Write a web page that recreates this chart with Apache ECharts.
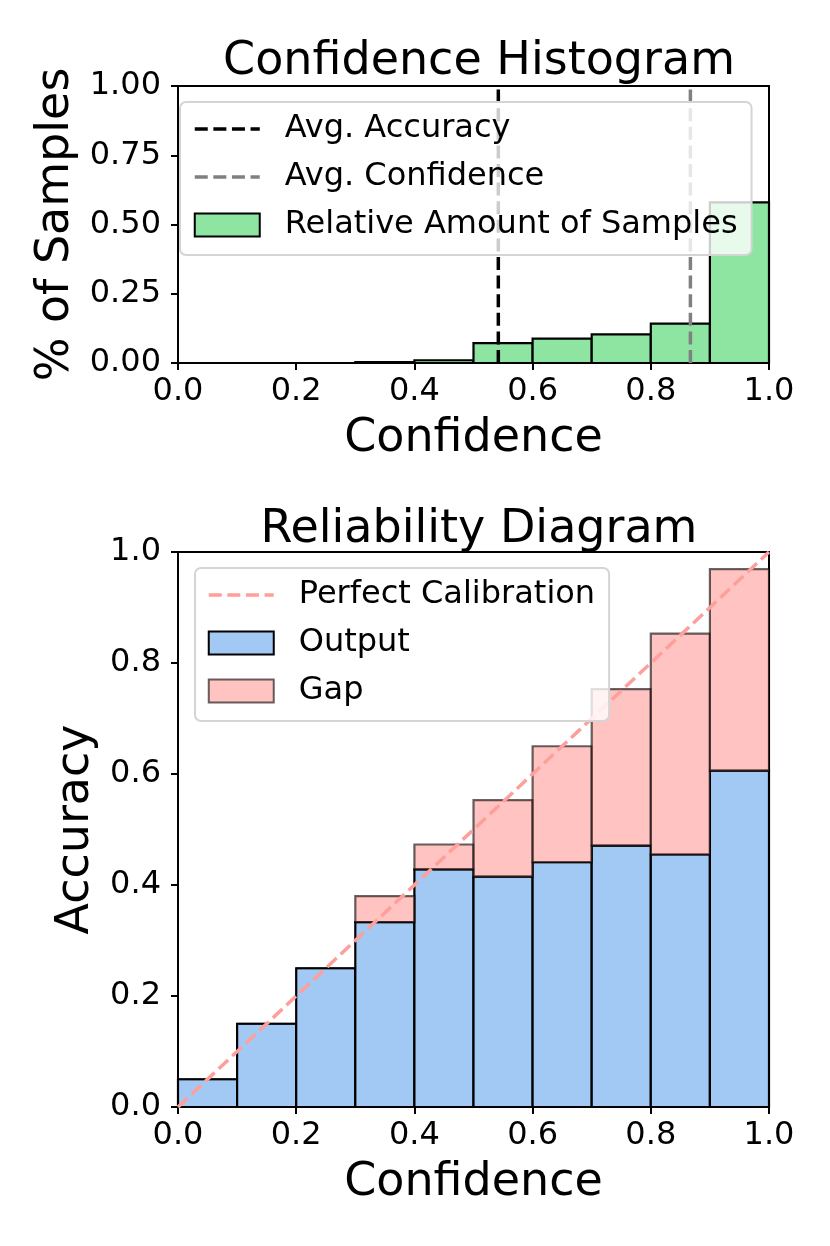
<!DOCTYPE html>
<html>
<head>
<meta charset="utf-8">
<script src="https://cdn.jsdelivr.net/npm/echarts/dist/echarts.min.js"></script>
<style>
html,body{margin:0;padding:0;background:#fff;}
#chart{width:830px;height:1246px;}
</style>
</head>
<body>
<div id="chart"></div>
<script>
// ---- data ----
var binStarts = [0.0, 0.1, 0.2, 0.3, 0.4, 0.5, 0.6, 0.7, 0.8, 0.9];
var binEnds   = [0.1, 0.2, 0.3, 0.4, 0.5, 0.6, 0.7, 0.8, 0.9, 1.0];
var sampleShare = [0, 0, 0, 0.003, 0.010, 0.072, 0.088, 0.103, 0.142, 0.580];
var binAccuracy = [0.05, 0.15, 0.25, 0.333, 0.428, 0.415, 0.441, 0.471, 0.455, 0.606];
var binConfidence = [0.05, 0.15, 0.25, 0.380, 0.473, 0.553, 0.650, 0.753, 0.853, 0.969];
var avgAccuracy = 0.542;
var avgConfidence = 0.867;

// ---- styles ----
var FONT = 'DejaVu Sans';
var GREEN = '#8de5a1', BLUE = '#a1c9f4';
var GAP_FILL = 'rgba(255,159,155,0.62)', GAP_EDGE = 'rgba(0,0,0,0.6)';
var DASH = [13, 5.6];
var LW = 3.5;

var histData = binStarts.map(function (s, i) { return [s, binEnds[i], 0, sampleShare[i]]; });
var outData = binStarts.map(function (s, i) { return [s, binEnds[i], 0, binAccuracy[i]]; });
var gapData = binStarts.map(function (s, i) { return [s, binEnds[i], binAccuracy[i], binConfidence[i]]; });

function rectRenderer(fill, stroke, lw) {
  return function (params, api) {
    var p0 = api.coord([api.value(0), api.value(3)]);
    var p1 = api.coord([api.value(1), api.value(2)]);
    return {
      type: 'rect',
      shape: { x: p0[0], y: p0[1], width: p1[0] - p0[0], height: p1[1] - p0[1] },
      style: { fill: fill, stroke: stroke, lineWidth: lw }
    };
  };
}

function xAxisCfg(gi) {
  return {
    type: 'value', gridIndex: gi, min: 0, max: 1, interval: 0.2,
    name: 'Confidence', nameLocation: 'middle', nameGap: 53,
    nameTextStyle: { fontSize: 46, color: '#000', fontFamily: FONT },
    axisLine: { show: true, lineStyle: { color: '#000', width: 2 } },
    axisTick: { show: true, length: 7, lineStyle: { color: '#000', width: 2 } },
    axisLabel: { margin: 13, fontSize: 32, color: '#000', fontFamily: FONT,
      formatter: function (v) { return v.toFixed(1); } },
    splitLine: { show: false }
  };
}
function yAxisCfg(gi, name, gap, interval, dec) {
  return {
    type: 'value', gridIndex: gi, min: 0, max: 1, interval: interval,
    name: name, nameLocation: 'middle', nameGap: gap,
    nameTextStyle: { fontSize: 46, color: '#000', fontFamily: FONT },
    axisLine: { show: true, lineStyle: { color: '#000', width: 2 } },
    axisTick: { show: true, length: 7, lineStyle: { color: '#000', width: 2 } },
    axisLabel: { margin: 17, fontSize: 32, color: '#000', fontFamily: FONT,
      formatter: function (v) { return v.toFixed(dec); } },
    splitLine: { show: false }
  };
}

var legendCommon = {
  orient: 'vertical', itemWidth: 65, itemHeight: 23, itemGap: 16,
  backgroundColor: 'rgba(255,255,255,0.8)', borderColor: '#d4d4d4', borderWidth: 2, borderRadius: 6,
  textStyle: { fontSize: 32, color: '#000', fontFamily: FONT, padding: [0, 0, 0, 20] },
  selectedMode: false
};
var noSymbol = { opacity: 0 };
function legLine(color) { return { color: color, width: LW, type: DASH }; }

var option = {
  animation: false,
  backgroundColor: '#fff',
  title: [
    { text: 'Confidence Histogram', left: 474, top: 34, textAlign: 'center',
      textStyle: { fontSize: 46, fontWeight: 'normal', color: '#000', fontFamily: FONT } },
    { text: 'Reliability Diagram', left: 474, top: 502, textAlign: 'center',
      textStyle: { fontSize: 46, fontWeight: 'normal', color: '#000', fontFamily: FONT } }
  ],
  grid: [
    { left: 178, top: 86, width: 591, height: 277, show: true, borderColor: '#000', borderWidth: 2, outerBoundsMode: 'none', containLabel: false },
    { left: 178, top: 552, width: 591, height: 555, show: true, borderColor: '#000', borderWidth: 2, outerBoundsMode: 'none', containLabel: false }
  ],
  xAxis: [xAxisCfg(0), xAxisCfg(1)],
  yAxis: [yAxisCfg(0, '% of Samples', 97, 0.25, 2), yAxisCfg(1, 'Accuracy', 77, 0.2, 1)],
  legend: [
    Object.assign({}, legendCommon, {
      left: 180, top: 102, padding: [11, 14, 14, 13],
      data: [
        { name: 'Avg. Accuracy', itemStyle: noSymbol, lineStyle: legLine('#000') },
        { name: 'Avg. Confidence', itemStyle: noSymbol, lineStyle: legLine('#808080') },
        { name: 'Relative Amount of Samples', icon: 'rect' }
      ]
    }),
    Object.assign({}, legendCommon, {
      left: 195, top: 568, padding: [11, 14, 14, 12],
      data: [
        { name: 'Perfect Calibration', itemStyle: noSymbol, lineStyle: legLine('#ff9f9b') },
        { name: 'Output', icon: 'rect' },
        { name: 'Gap', icon: 'rect' }
      ]
    })
  ],
  series: [
    { name: 'Relative Amount of Samples', type: 'custom', xAxisIndex: 0, yAxisIndex: 0, z: 2, clip: false,
      itemStyle: { color: GREEN, borderColor: '#000', borderWidth: 2 },
      renderItem: rectRenderer(GREEN, '#000', 2.2), data: histData },
    { name: 'Avg. Accuracy', type: 'line', xAxisIndex: 0, yAxisIndex: 0, z: 3, symbol: 'none', showSymbol: false,
      lineStyle: { color: '#000', width: LW, type: DASH }, itemStyle: { color: '#000' },
      data: [[avgAccuracy, 0], [avgAccuracy, 1]] },
    { name: 'Avg. Confidence', type: 'line', xAxisIndex: 0, yAxisIndex: 0, z: 3, symbol: 'none', showSymbol: false,
      lineStyle: { color: '#808080', width: LW, type: DASH }, itemStyle: { color: '#808080' },
      data: [[avgConfidence, 0], [avgConfidence, 1]] },
    { name: 'Output', type: 'custom', xAxisIndex: 1, yAxisIndex: 1, z: 2, clip: false,
      itemStyle: { color: BLUE, borderColor: '#000', borderWidth: 2 },
      renderItem: rectRenderer(BLUE, '#000', 2.2), data: outData },
    { name: 'Gap', type: 'custom', xAxisIndex: 1, yAxisIndex: 1, z: 2, clip: false,
      itemStyle: { color: GAP_FILL, borderColor: GAP_EDGE, borderWidth: 2 },
      renderItem: rectRenderer(GAP_FILL, GAP_EDGE, 2.2), data: gapData },
    { name: 'Perfect Calibration', type: 'line', xAxisIndex: 1, yAxisIndex: 1, z: 3, symbol: 'none', showSymbol: false,
      lineStyle: { color: '#ff9f9b', width: LW, type: DASH }, itemStyle: { color: '#ff9f9b' },
      data: [[0, 0], [1, 1]] }
  ]
};
var chart = echarts.init(document.getElementById('chart'), null, { renderer: 'canvas' });
chart.setOption(option);
</script>
</body>
</html>
